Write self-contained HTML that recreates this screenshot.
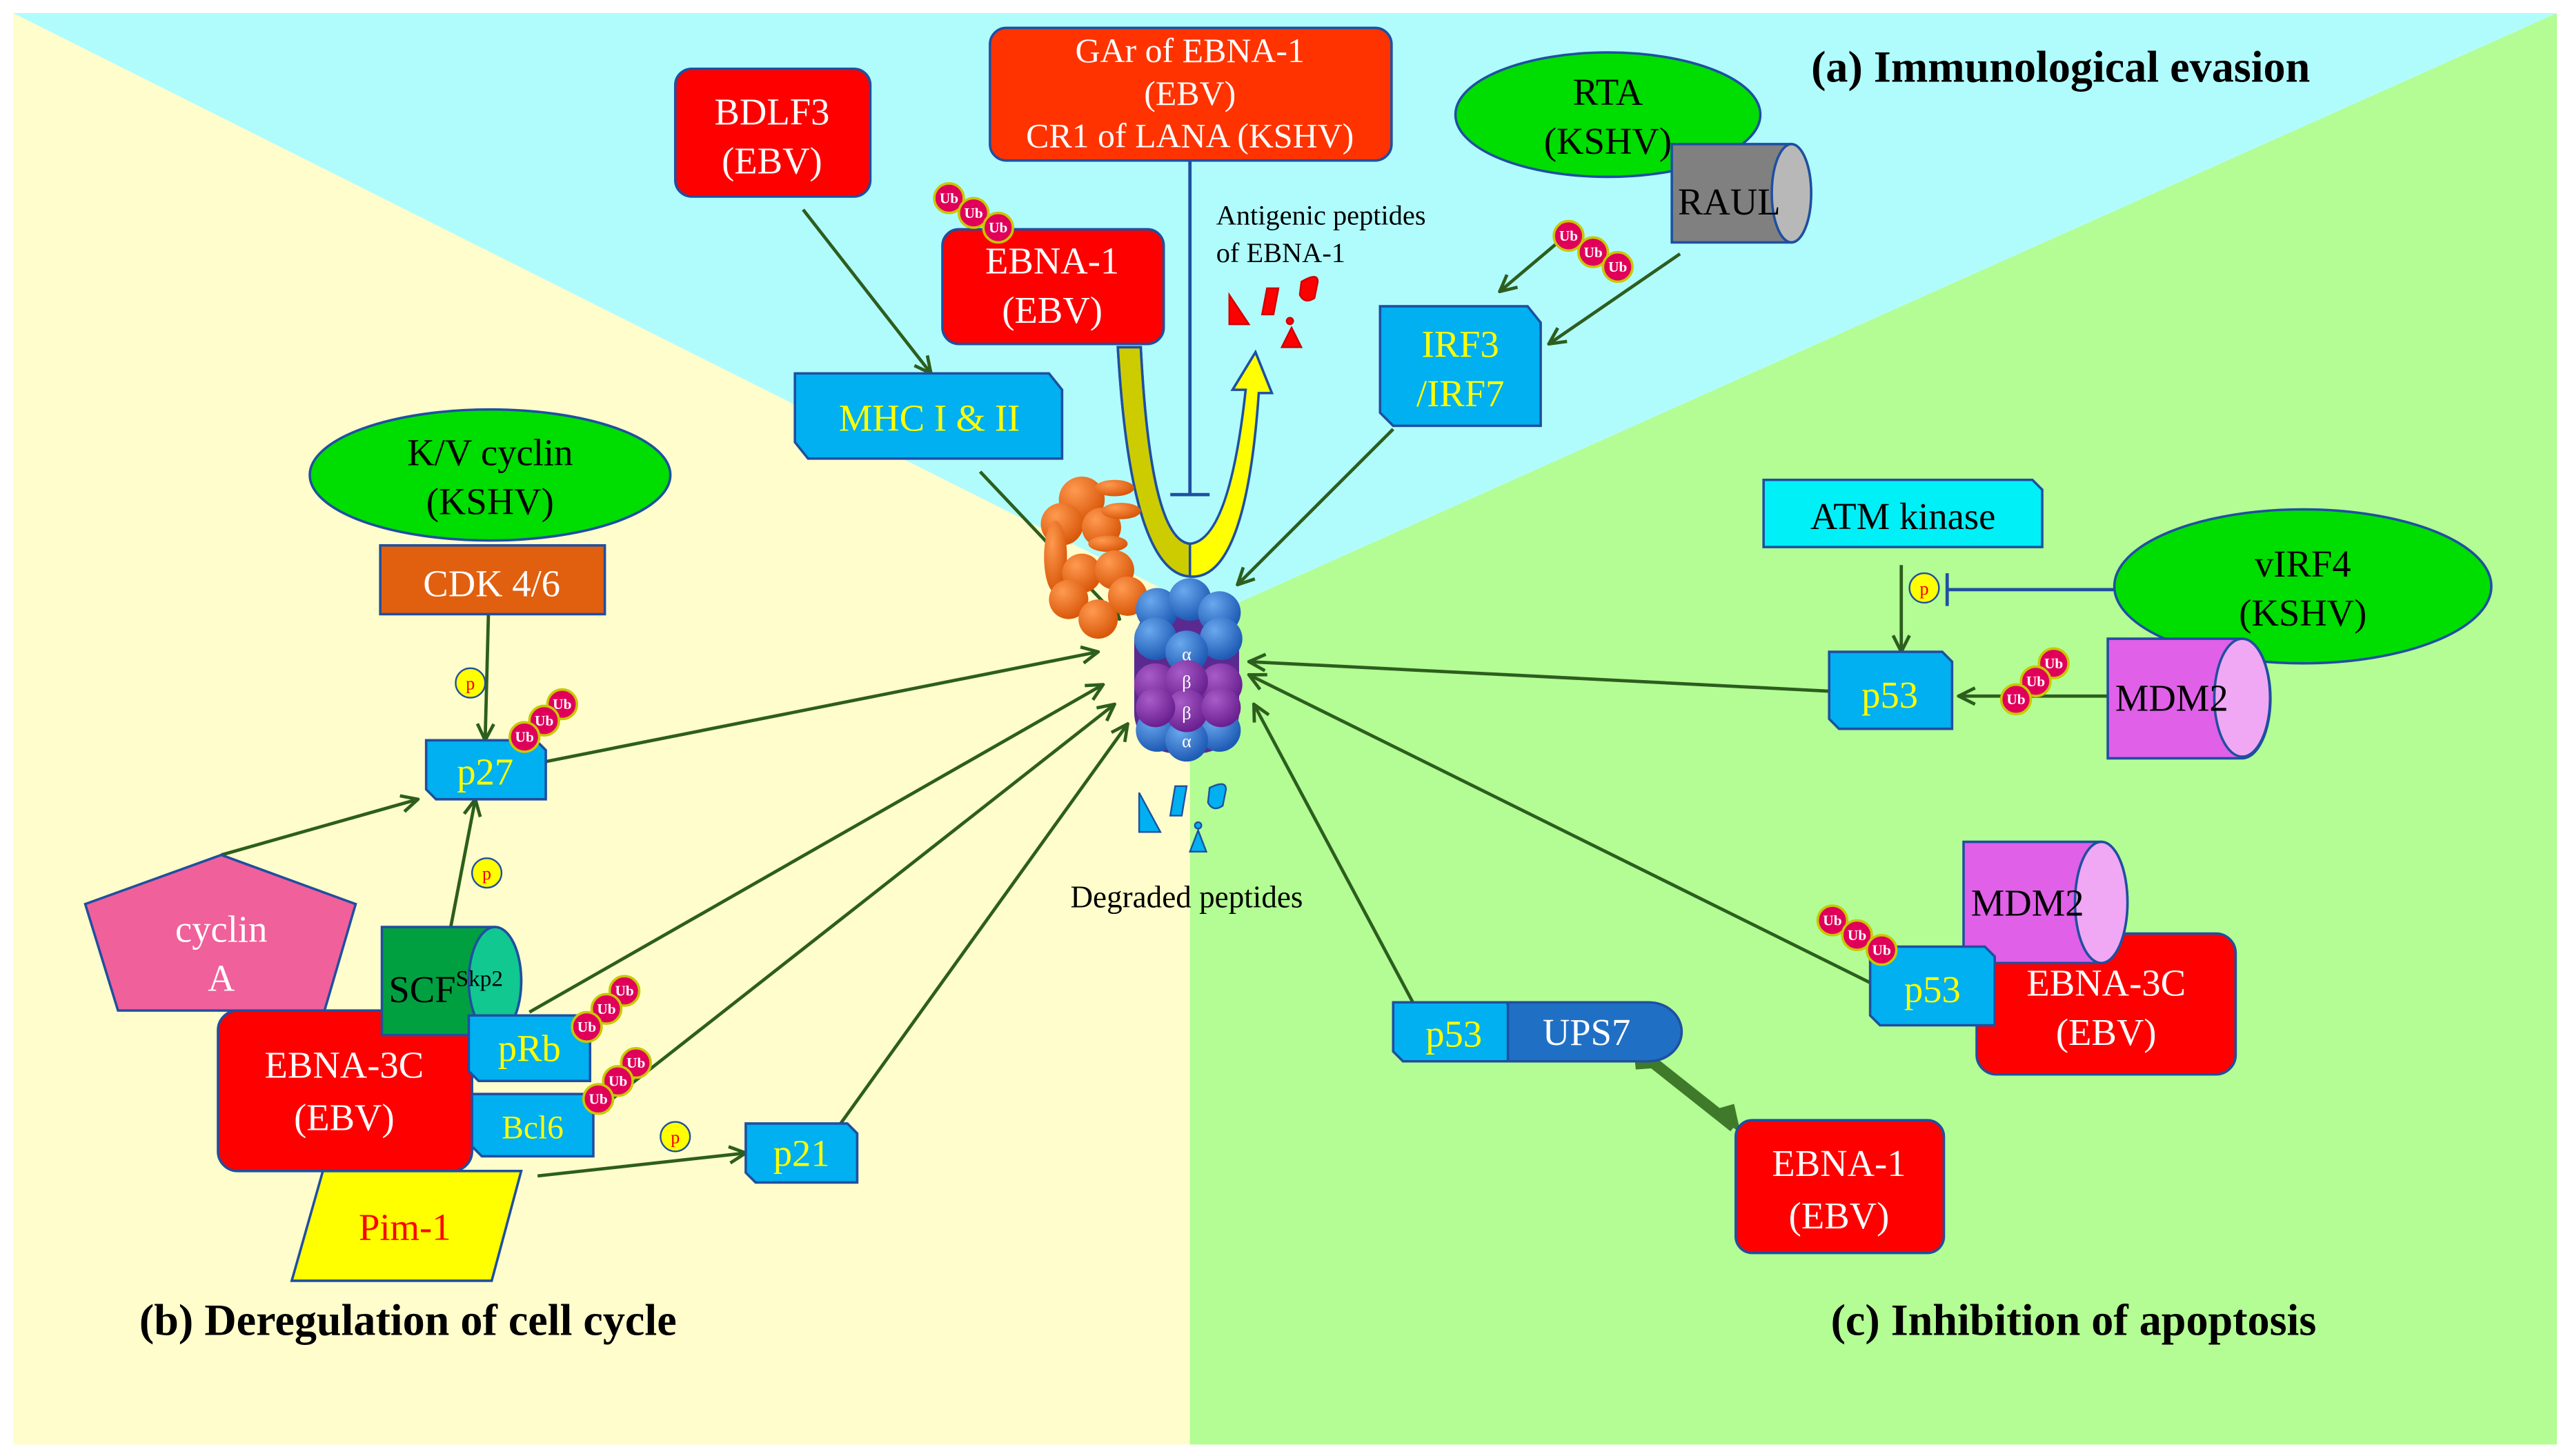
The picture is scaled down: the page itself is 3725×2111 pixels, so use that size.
<!DOCTYPE html>
<html><head><meta charset="utf-8"><style>
html,body{margin:0;padding:0;background:#fff;}
svg{display:block;}
svg text{font-family:"Liberation Serif","DejaVu Serif",serif;}
</style></head><body>
<svg width="3725" height="2111" viewBox="0 0 1568 889" preserveAspectRatio="none" xmlns="http://www.w3.org/2000/svg" font-family="Liberation Serif, DejaVu Serif, serif">
<defs>
<marker id="ar" viewBox="0 0 12 12" refX="11" refY="6" markerWidth="12" markerHeight="12" markerUnits="userSpaceOnUse" orient="auto"><path d="M1,1 L11,6 L1,11" fill="none" stroke="#2d5e1e" stroke-width="2"/></marker>
<radialGradient id="bb" cx="35%" cy="30%" r="70%"><stop offset="0" stop-color="#6aa8ee"/><stop offset="1" stop-color="#1e5bb5"/></radialGradient>
<radialGradient id="pp" cx="35%" cy="30%" r="70%"><stop offset="0" stop-color="#a85cc8"/><stop offset="1" stop-color="#6a2090"/></radialGradient>
<radialGradient id="oo" cx="35%" cy="30%" r="70%"><stop offset="0" stop-color="#ff9a50"/><stop offset="1" stop-color="#d9580a"/></radialGradient>
</defs>
<rect width="1568" height="889" fill="#fff"/>
<polygon points="8,8 1560,8 740,375" fill="#b0fcfd"/>
<polygon points="8,8 740,375 726,378 726,882 8,882" fill="#fffdcb"/>
<polygon points="1560,8 1560,882 726,882 726,378 740,375" fill="#b3fd94"/>

<g stroke="#2d5e1e" stroke-width="2" fill="none" marker-end="url(#ar)">
<line x1="490" y1="128" x2="568" y2="228"/>
<line x1="598" y1="288" x2="683" y2="378"/>
<line x1="850" y1="262" x2="755" y2="357"/>
<line x1="960" y1="140" x2="915" y2="178"/>
<line x1="1025" y1="155" x2="945" y2="210"/>
<line x1="333" y1="465" x2="670" y2="398"/>
<line x1="323" y1="618" x2="673" y2="418"/>
<line x1="362" y1="680" x2="680" y2="430"/>
<line x1="510" y1="690" x2="688" y2="442"/>
<line x1="135" y1="522" x2="255" y2="488"/>
<line x1="275" y1="566" x2="290" y2="488"/>
<line x1="298" y1="375" x2="296" y2="452"/>
<line x1="328" y1="718" x2="455" y2="704"/>
<line x1="1116" y1="422" x2="762" y2="404"/>
<line x1="1160" y1="345" x2="1160" y2="398"/>
<line x1="1286" y1="425" x2="1195" y2="425"/>
<line x1="1141" y1="600" x2="762" y2="412"/>
<line x1="862" y1="612" x2="765" y2="430"/>
</g>
<line x1="1000" y1="642" x2="1058" y2="688" stroke="#3f7a2a" stroke-width="7"/>
<polygon points="996,633 1012,652 998,653" fill="#3f7a2a"/>
<polygon points="1062,692 1044,678 1058,674" fill="#3f7a2a"/>
<g stroke="#1f4fa0" stroke-width="2">
<line x1="1290" y1="360" x2="1188" y2="360"/><line x1="1188" y1="350" x2="1188" y2="370"/>
<line x1="726" y1="98" x2="726" y2="302"/><line x1="714" y1="302" x2="738" y2="302"/>
</g>

<path d="M682,212 L696,212 Q702,330 726,332 Q750,330 760,238 L752,238 L766,215 L776,240 L768,240 Q760,355 726,352 Q690,350 682,212 Z" fill="#ffff00" stroke="#1f4fa0" stroke-width="1.5"/>
<path d="M682,212 L696,212 Q702,330 726,332 L726,352 Q690,350 682,212 Z" fill="#cccc00" stroke="#1f4fa0" stroke-width="1.5"/>

<g fill="url(#oo)">
<circle cx="660" cy="305" r="14"/><circle cx="648" cy="320" r="13"/><circle cx="672" cy="322" r="12"/>
<ellipse cx="680" cy="298" rx="12" ry="5"/><ellipse cx="684" cy="312" rx="12" ry="5"/><ellipse cx="676" cy="332" rx="12" ry="5"/>
<ellipse cx="644" cy="340" rx="7" ry="22"/>
<circle cx="660" cy="350" r="12"/><circle cx="680" cy="348" r="12"/><circle cx="688" cy="364" r="12"/><circle cx="652" cy="366" r="12"/><circle cx="670" cy="378" r="12"/>
</g>
<g>
<rect x="692" y="368" width="64" height="92" rx="25" fill="#5a2a90"/>
<g fill="url(#bb)"><circle cx="706" cy="372" r="13"/><circle cx="726" cy="366" r="13"/><circle cx="744" cy="374" r="13"/><circle cx="705" cy="390" r="13"/><circle cx="745" cy="390" r="13"/><circle cx="724" cy="398" r="13"/>
<circle cx="706" cy="446" r="13"/><circle cx="744" cy="446" r="13"/><circle cx="724" cy="452" r="13"/></g>
<g fill="url(#pp)"><circle cx="705" cy="418" r="13"/><circle cx="745" cy="418" r="13"/><circle cx="724" cy="416" r="13"/><circle cx="724" cy="434" r="13"/><circle cx="705" cy="432" r="12"/><circle cx="745" cy="432" r="12"/></g>
<g fill="#fff" font-size="11" text-anchor="middle"><text x="724" y="403">α</text><text x="724" y="420">β</text><text x="724" y="439">β</text><text x="724" y="456">α</text></g>
</g>
<g fill="#00b0f0" stroke="#1f4fa0" stroke-width="1">
<polygon points="695,484 695,508 708,508"/><polygon points="717,480 724,480 721,498 714,498"/>
<path d="M738,481 Q748,476 748,482 L746,492 Q740,496 737,490 Z"/><polygon points="731,507 726,520 736,520"/><circle cx="731" cy="504" r="2"/>
</g>
<g fill="#ff0000" stroke="#c00" stroke-width="1">
<polygon points="750,180 750,198 762,198"/><polygon points="773,176 780,176 777,192 770,192"/>
<path d="M794,172 Q804,166 804,172 L802,182 Q796,186 793,180 Z"/><polygon points="788,200 782,212 794,212"/><circle cx="787" cy="196" r="2"/>
</g>
<text x="742" y="137" font-size="17" fill="#000">Antigenic peptides</text>
<text x="742" y="160" font-size="17" fill="#000">of EBNA-1</text>
<text x="724" y="554" font-size="19" fill="#000" text-anchor="middle">Degraded peptides</text>

<g stroke="#1f4fa0" stroke-width="1.5">
<rect x="412" y="42" width="119" height="78" rx="10" fill="#ff0000"/>
<rect x="604" y="17" width="245" height="81" rx="10" fill="#ff3300"/>
<rect x="575" y="140" width="135" height="70" rx="10" fill="#ff0000"/>
<rect x="133" y="617" width="155" height="98" rx="12" fill="#ff0000"/>
<rect x="1206" y="570" width="158" height="86" rx="12" fill="#ff0000"/>
<rect x="1059" y="684" width="127" height="81" rx="10" fill="#ff0000"/>
</g>
<g fill="#fff" font-size="23" text-anchor="middle">
<text x="471" y="76">BDLF3</text><text x="471" y="106">(EBV)</text>
<text x="726" y="38" font-size="21">GAr of EBNA-1</text><text x="726" y="64" font-size="21">(EBV)</text><text x="726" y="90" font-size="21">CR1 of LANA (KSHV)</text>
<text x="642" y="167">EBNA-1</text><text x="642" y="197">(EBV)</text>
<text x="210" y="658">EBNA-3C</text><text x="210" y="690">(EBV)</text>
<text x="1285" y="608">EBNA-3C</text><text x="1285" y="638">(EBV)</text>
<text x="1122" y="718">EBNA-1</text><text x="1122" y="750">(EBV)</text>
</g>

<g fill="#00dd00" stroke="#1f4fa0" stroke-width="1.5">
<ellipse cx="981" cy="70" rx="93" ry="38"/>
<ellipse cx="299" cy="290" rx="110" ry="40"/>
<ellipse cx="1405" cy="358" rx="115" ry="47"/>
</g>
<g fill="#000" font-size="23" text-anchor="middle">
<text x="981" y="64">RTA</text><text x="981" y="94">(KSHV)</text>
<text x="299" y="284">K/V cyclin</text><text x="299" y="314">(KSHV)</text>
<text x="1405" y="352">vIRF4</text><text x="1405" y="382">(KSHV)</text>
</g>

<g stroke="#1f4fa0" stroke-width="1.5">
<path d="M1020,88 L1093,88 A12,30 0 0 1 1093,148 L1020,148 Z" fill="#808080"/><ellipse cx="1093" cy="118" rx="12" ry="30" fill="#b8b8b8"/>
<path d="M1286,390 L1368,390 A17,36 0 0 1 1368,463 L1286,463 Z" fill="#e060e8"/><ellipse cx="1368" cy="426" rx="17" ry="36" fill="#f0a8f4"/>
<path d="M1198,514 L1282,514 A16,37 0 0 1 1282,588 L1198,588 Z" fill="#e060e8"/><ellipse cx="1282" cy="551" rx="16" ry="37" fill="#f0a8f4"/>
<path d="M233,566 L302,566 A16,33 0 0 1 302,632 L233,632 Z" fill="#00a040"/><ellipse cx="302" cy="599" rx="16" ry="33" fill="#10c890"/>
</g>
<g fill="#000" font-size="23" text-anchor="middle">
<text x="1055" y="131">RAUL</text><text x="1325" y="434">MDM2</text><text x="1237" y="559">MDM2</text>
<text x="272" y="612">SCF<tspan font-size="14" dy="-10">Skp2</tspan></text>
</g>

<g fill="#00b0f0" stroke="#1f4fa0" stroke-width="1.5">
<polygon points="842,187 932,187 940,197 940,260 850,260 842,252"/>
<polygon points="485,228 640,228 648,238 648,280 493,280 485,270"/>
<polygon points="260,452 327,452 333,458 333,488 266,488 260,482"/>
<polygon points="286,620 354,620 360,626 360,660 292,660 286,654"/>
<polygon points="288,668 356,668 362,674 362,706 294,706 288,700"/>
<polygon points="455,686 517,686 523,692 523,722 461,722 455,716"/>
<polygon points="1116,398 1185,398 1191,404 1191,445 1122,445 1116,439"/>
<polygon points="1141,578 1211,578 1217,584 1217,626 1147,626 1141,620"/>
<polygon points="850,612 919,612 925,618 925,648 856,648 850,642"/>
<polygon points="1076,293 1240,293 1246,299 1246,334 1076,334" fill="#00f0f8"/>
</g>
<path d="M920,612 L1006,612 A20,18 0 0 1 1006,648 L920,648 Z" fill="#1f6fc5" stroke="#1f4fa0" stroke-width="1.5"/>
<rect x="232" y="333" width="137" height="42" fill="#e06010" stroke="#1f4fa0" stroke-width="1.5"/>
<polygon points="52,552 135,522 217,552 198,617 72,617" fill="#f0609a" stroke="#1f4fa0" stroke-width="1.5"/>
<polygon points="178,782 197,715 318,715 300,782" fill="#ffff00" stroke="#1f4fa0" stroke-width="1.5"/>
<g fill="#ffff00" font-size="23" text-anchor="middle">
<text x="891" y="218">IRF3</text><text x="891" y="248">/IRF7</text>
<text x="567" y="263">MHC I &amp; II</text>
<text x="296" y="479">p27</text><text x="323" y="648">pRb</text><text x="325" y="695" font-size="20">Bcl6</text>
<text x="489" y="712">p21</text><text x="1153" y="432">p53</text><text x="1179" y="612">p53</text><text x="887" y="639">p53</text>
</g>
<text x="968" y="638" font-size="23" fill="#fff" text-anchor="middle">UPS7</text>
<text x="300" y="364" font-size="23" fill="#fff" text-anchor="middle">CDK 4/6</text>
<text x="1161" y="323" font-size="23" fill="#000" text-anchor="middle">ATM kinase</text>
<text x="135" y="575" font-size="23" fill="#fff" text-anchor="middle">cyclin</text>
<text x="135" y="605" font-size="23" fill="#fff" text-anchor="middle">A</text>
<text x="247" y="757" font-size="23" fill="#ff0000" text-anchor="middle">Pim-1</text>

<g font-size="9" font-weight="bold" fill="#fff" text-anchor="middle" stroke-width="1.5">
<g><circle cx="579" cy="121" r="9" fill="#e0005a" stroke="#c8c800"/><text x="579" y="124">Ub</text><circle cx="594" cy="130" r="9" fill="#e0005a" stroke="#c8c800"/><text x="594" y="133">Ub</text><circle cx="609" cy="139" r="9" fill="#e0005a" stroke="#c8c800"/><text x="609" y="142">Ub</text></g>
<g><circle cx="957" cy="144" r="9" fill="#e0005a" stroke="#c8c800"/><text x="957" y="147">Ub</text><circle cx="972" cy="154" r="9" fill="#e0005a" stroke="#c8c800"/><text x="972" y="157">Ub</text><circle cx="987" cy="163" r="9" fill="#e0005a" stroke="#c8c800"/><text x="987" y="166">Ub</text></g>
<g><circle cx="343" cy="430" r="9" fill="#e0005a" stroke="#c8c800"/><text x="343" y="433">Ub</text><circle cx="332" cy="440" r="9" fill="#e0005a" stroke="#c8c800"/><text x="332" y="443">Ub</text><circle cx="320" cy="450" r="9" fill="#e0005a" stroke="#c8c800"/><text x="320" y="453">Ub</text></g>
<g><circle cx="381" cy="605" r="9" fill="#e0005a" stroke="#c8c800"/><text x="381" y="608">Ub</text><circle cx="370" cy="616" r="9" fill="#e0005a" stroke="#c8c800"/><text x="370" y="619">Ub</text><circle cx="358" cy="627" r="9" fill="#e0005a" stroke="#c8c800"/><text x="358" y="630">Ub</text></g>
<g><circle cx="388" cy="649" r="9" fill="#e0005a" stroke="#c8c800"/><text x="388" y="652">Ub</text><circle cx="377" cy="660" r="9" fill="#e0005a" stroke="#c8c800"/><text x="377" y="663">Ub</text><circle cx="365" cy="671" r="9" fill="#e0005a" stroke="#c8c800"/><text x="365" y="674">Ub</text></g>
<g><circle cx="1253" cy="405" r="9" fill="#e0005a" stroke="#c8c800"/><text x="1253" y="408">Ub</text><circle cx="1242" cy="416" r="9" fill="#e0005a" stroke="#c8c800"/><text x="1242" y="419">Ub</text><circle cx="1230" cy="427" r="9" fill="#e0005a" stroke="#c8c800"/><text x="1230" y="430">Ub</text></g>
<g><circle cx="1118" cy="562" r="9" fill="#e0005a" stroke="#c8c800"/><text x="1118" y="565">Ub</text><circle cx="1133" cy="571" r="9" fill="#e0005a" stroke="#c8c800"/><text x="1133" y="574">Ub</text><circle cx="1148" cy="580" r="9" fill="#e0005a" stroke="#c8c800"/><text x="1148" y="583">Ub</text></g>
</g>
<g font-size="11" fill="#e00" text-anchor="middle">
<ellipse cx="287" cy="417" rx="9" ry="9" fill="#ffff00" stroke="#1f4fa0"/><text x="287" y="421">p</text>
<ellipse cx="297" cy="533" rx="9" ry="9" fill="#ffff00" stroke="#1f4fa0"/><text x="297" y="537">p</text>
<ellipse cx="412" cy="694" rx="9" ry="9" fill="#ffff00" stroke="#1f4fa0"/><text x="412" y="698">p</text>
<ellipse cx="1174" cy="359" rx="9" ry="9" fill="#ffff00" stroke="#1f4fa0"/><text x="1174" y="363">p</text>
</g>

<g font-size="27" font-weight="bold" fill="#000">
<text x="1105" y="50">(a) Immunological evasion</text>
<text x="85" y="815">(b) Deregulation of cell cycle</text>
<text x="1117" y="815">(c) Inhibition of apoptosis</text>
</g>
</svg>
</body></html>
